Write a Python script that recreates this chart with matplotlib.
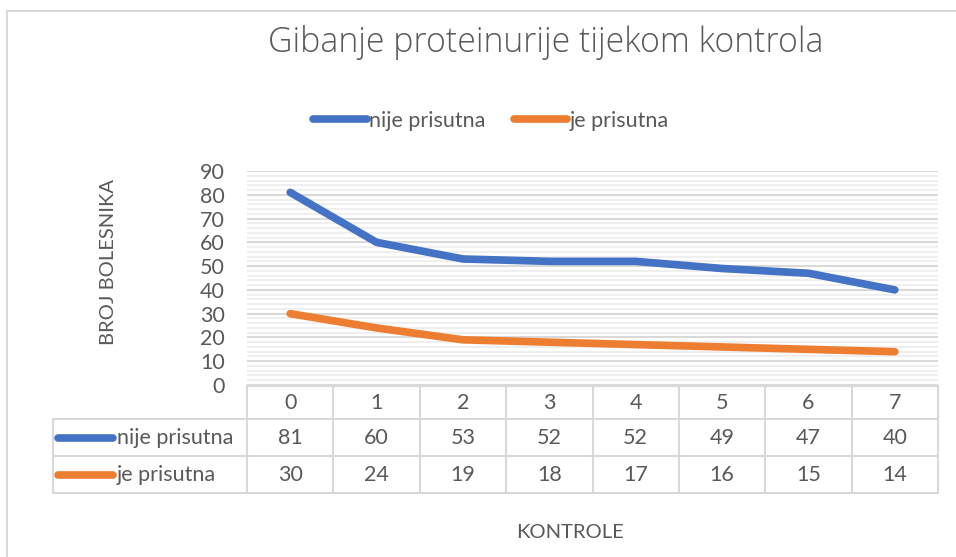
import matplotlib
matplotlib.use("Agg")
from matplotlib import pyplot as plt
from matplotlib.patches import Rectangle
from matplotlib.ticker import MultipleLocator

kontrole = [0, 1, 2, 3, 4, 5, 6, 7]
nije_prisutna = [81, 60, 53, 52, 52, 49, 47, 40]
je_prisutna = [30, 24, 19, 18, 17, 16, 15, 14]
series_names = ["nije prisutna", "je prisutna"]
series_colors = ["#4472C4", "#ED7D31"]

W, H = 956, 557
plt.rcParams['font.family'] = ['Lato', 'DejaVu Sans']
txt = "#595959"
grid_major = "#d9d9d9"
grid_minor = "#efefef"
fs = 15.5

fig = plt.figure(figsize=(W / 100, H / 100), dpi=100)

def box(x0, y0, x1, y1):
    # pixel box (top-left origin) -> figure fraction rect
    return [x0 / W, 1 - y1 / H, (x1 - x0) / W, (y1 - y0) / H]

# chart border
fig.patches.append(Rectangle((7 / W, -0.05), 1.1, 1 - 11 / H + 0.05, transform=fig.transFigure,
                             fill=False, edgecolor="#d9d9d9", linewidth=1.5))

# plot area
px_left, px_right = 247, 938
ax = fig.add_axes(box(px_left, 171, px_right, 385))
ax.set_xlim(-0.5, 7.5)
ax.set_ylim(0, 90)
ax.yaxis.set_major_locator(MultipleLocator(10))
ax.yaxis.set_minor_locator(MultipleLocator(2))
ax.grid(axis="y", which="major", color=grid_major, linewidth=1.5)
ax.grid(axis="y", which="minor", color=grid_minor, linewidth=1.5)
ax.set_axisbelow(True)
for s in ax.spines.values():
    s.set_visible(False)
ax.set_xticks([])
ax.tick_params(axis="y", which="both", length=0, labelsize=fs, labelcolor=txt, pad=16)

lines = []
for vals, name, col in zip([nije_prisutna, je_prisutna], series_names, series_colors):
    ln, = ax.plot(kontrole, vals, color=col, linewidth=5.5, solid_capstyle="round",
                  solid_joinstyle="round", label=name)
    lines.append(ln)

# data table
unit = (px_right - px_left) / 8.0
tab_left = 53
tax = fig.add_axes(box(tab_left, 386, px_right, 497))
x_start = -0.5 - (px_left - tab_left) / unit
tax.set_xlim(x_start, 7.5)
tax.set_ylim(3, 0)
tax.axis("off")
row_edges = [0, 0.9, 1.9, 2.9]
lc = "#d9d9d9"
lw = 1.5
tax.plot([-0.5, 7.5], [row_edges[0]] * 2, color=lc, lw=lw, clip_on=False)
for r in row_edges[1:]:
    tax.plot([x_start, 7.5], [r, r], color=lc, lw=lw, clip_on=False)
for i in range(9):
    tax.plot([i - 0.5] * 2, [row_edges[0], row_edges[3]], color=lc, lw=lw, clip_on=False)
tax.plot([x_start] * 2, [row_edges[1], row_edges[3]], color=lc, lw=lw, clip_on=False)

for k in kontrole:
    tax.text(k, 0.45, str(k), ha="center", va="center", fontsize=fs, color=txt)
for r, (vals, name, col) in enumerate(zip([nije_prisutna, je_prisutna], series_names, series_colors)):
    yc = (row_edges[r + 1] + row_edges[r + 2]) / 2
    for k, v in zip(kontrole, vals):
        tax.text(k, yc, str(v), ha="center", va="center", fontsize=fs, color=txt)
    tax.plot([x_start + 5 / unit, x_start + 60 / unit], [yc, yc], color=col, lw=5.5,
             solid_capstyle="round", clip_on=False)
    tax.text(x_start + 64 / unit, yc, name, ha="left", va="center", fontsize=fs, color=txt)

# title, legend, axis labels
fig.text(546 / W, 1 - 43 / H, "Gibanje proteinurije tijekom kontrola", ha="center", va="center",
         fontsize=24.4, color=txt, family=["Open Sans", "DejaVu Sans"], fontweight="light")
fig.legend(handles=lines, loc="center", bbox_to_anchor=(491 / W, 1 - 121 / H), ncol=2,
           frameon=False, fontsize=fs, labelcolor=txt, handlelength=2.5, handletextpad=0.1,
           columnspacing=1.3)
fig.text(108 / W, 1 - 262 / H, "BROJ BOLESNIKA", rotation=90, ha="center", va="center",
         fontsize=14.5, color=txt)
fig.text(570 / W, 1 - 532 / H, "KONTROLE", ha="center", va="center", fontsize=14.5, color=txt)

fig.savefig("out.png", dpi=100)
